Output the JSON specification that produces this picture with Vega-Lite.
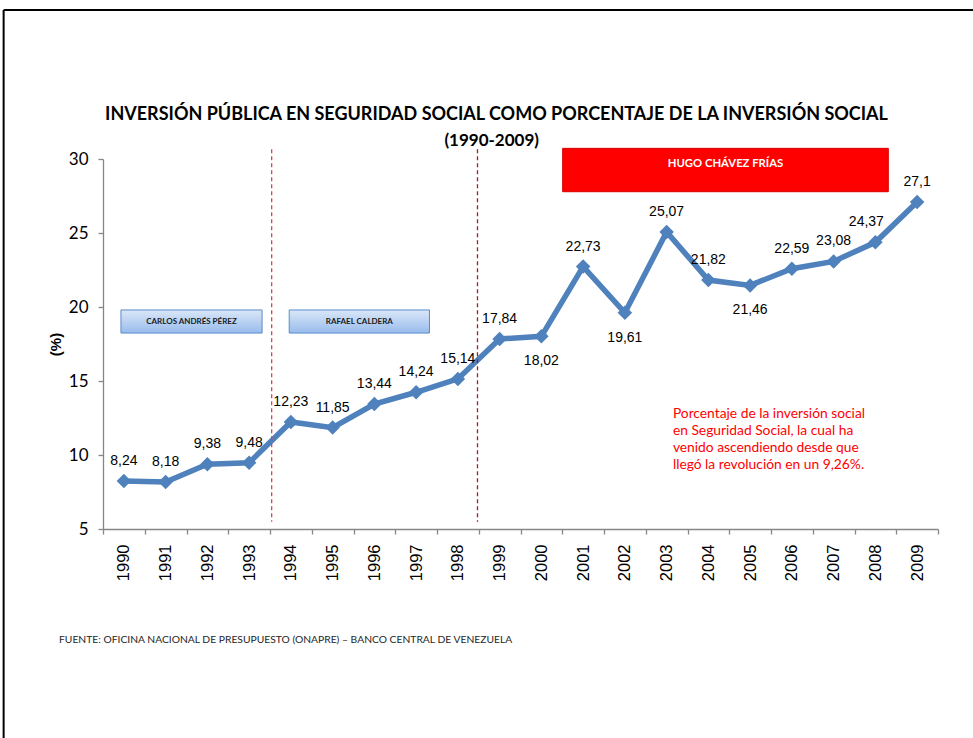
{
  "$schema": "https://vega.github.io/schema/vega-lite/v6.json",
  "autosize": {"type": "none"},
  "width": 835,
  "height": 370,
  "padding": {"left": 103, "top": 159, "right": 35, "bottom": 209},
  "background": "white",
  "config": {"view": {"stroke": null}, "font": "Liberation Sans"},
  "layer": [
    {
      "data": {"values": [
        {"year": "1990", "value": 8.24, "label": "8,24", "pos": "above"},
        {"year": "1991", "value": 8.18, "label": "8,18", "pos": "above"},
        {"year": "1992", "value": 9.38, "label": "9,38", "pos": "above"},
        {"year": "1993", "value": 9.48, "label": "9,48", "pos": "above"},
        {"year": "1994", "value": 12.23, "label": "12,23", "pos": "above"},
        {"year": "1995", "value": 11.85, "label": "11,85", "pos": "above"},
        {"year": "1996", "value": 13.44, "label": "13,44", "pos": "above"},
        {"year": "1997", "value": 14.24, "label": "14,24", "pos": "above"},
        {"year": "1998", "value": 15.14, "label": "15,14", "pos": "above"},
        {"year": "1999", "value": 17.84, "label": "17,84", "pos": "above"},
        {"year": "2000", "value": 18.02, "label": "18,02", "pos": "below"},
        {"year": "2001", "value": 22.73, "label": "22,73", "pos": "above"},
        {"year": "2002", "value": 19.61, "label": "19,61", "pos": "below"},
        {"year": "2003", "value": 25.07, "label": "25,07", "pos": "above"},
        {"year": "2004", "value": 21.82, "label": "21,82", "pos": "above"},
        {"year": "2005", "value": 21.46, "label": "21,46", "pos": "below"},
        {"year": "2006", "value": 22.59, "label": "22,59", "pos": "above"},
        {"year": "2007", "value": 23.08, "label": "23,08", "pos": "above"},
        {"year": "2008", "value": 24.37, "label": "24,37", "pos": "aboveleft"},
        {"year": "2009", "value": 27.1, "label": "27,1", "pos": "above"}
      ]},
      "encoding": {
        "x": {
          "field": "year", "type": "ordinal",
          "scale": {"type": "band", "paddingInner": 0, "paddingOuter": 0},
          "axis": {
            "title": null, "labelAngle": -90, "labelFontSize": 16.5, "labelColor": "#000000",
            "labelFont": "Liberation Sans", "tickBand": "extent", "tickSize": 5,
            "domainColor": "#868686", "tickColor": "#868686", "domainWidth": 1.3, "tickWidth": 1.3,
            "labelPadding": 10, "grid": false
          }
        },
        "y": {
          "field": "value", "type": "quantitative",
          "scale": {"domain": [5, 30], "nice": false, "zero": false},
          "axis": {
            "title": "(%)", "titleFont": "Liberation Sans", "titleFontSize": 15, "titleFontWeight": "bold",
            "titleColor": "#000000", "titlePadding": 5,
            "values": [5, 10, 15, 20, 25, 30], "labelFont": "Lato", "labelFontSize": 17,
            "labelColor": "#000000", "labelPadding": 10, "tickSize": 5,
            "domainColor": "#868686", "tickColor": "#868686", "domainWidth": 1.3, "tickWidth": 1.3,
            "grid": false
          }
        }
      },
      "layer": [
        {"mark": {"type": "line", "color": "#4f81bd", "strokeWidth": 5.5}},
        {"mark": {"type": "point", "shape": "diamond", "filled": true, "size": 210, "color": "#4f81bd", "opacity": 1}},
        {
          "transform": [{"filter": "datum.pos == 'above'"}],
          "mark": {"type": "text", "dy": -20, "fontSize": 14, "font": "Liberation Sans", "color": "#000000"},
          "encoding": {"text": {"field": "label"}}
        },
        {
          "transform": [{"filter": "datum.pos == 'aboveleft'"}],
          "mark": {"type": "text", "dy": -20, "dx": -9, "fontSize": 14, "font": "Liberation Sans", "color": "#000000"},
          "encoding": {"text": {"field": "label"}}
        },
        {
          "transform": [{"filter": "datum.pos == 'below'"}],
          "mark": {"type": "text", "dy": 25, "fontSize": 14, "font": "Liberation Sans", "color": "#000000"},
          "encoding": {"text": {"field": "label"}}
        }
      ]
    },
    {
      "encoding": {},
      "layer": [
        {
          "data": {"values": [
            {"x": 1993.54, "y1": 30.66, "y2": 5.49, "c": "a"},
            {"x": 1998.47, "y1": 30.66, "y2": 5.49, "c": "b"}
          ]},
          "mark": {"type": "rule", "strokeDash": [4, 3], "strokeWidth": 1.3},
          "encoding": {
            "x": {"field": "x", "type": "quantitative", "scale": {"domain": [1989.5, 2009.5], "nice": false, "zero": false}, "axis": null},
            "y": {"field": "y1", "type": "quantitative", "scale": {"domain": [5, 30], "nice": false, "zero": false}},
            "y2": {"field": "y2"},
            "color": {"field": "c", "type": "nominal", "scale": {"domain": ["a", "b"], "range": ["#e0404a", "#a01c28"]}, "legend": null}
          }
        },
        {
          "data": {"values": [
            {"name": "CARLOS ANDRÉS PÉREZ", "x1": 1989.93, "x2": 1993.31, "y1": 19.8, "y2": 18.24},
            {"name": "RAFAEL CALDERA", "x1": 1993.96, "x2": 1997.32, "y1": 19.8, "y2": 18.24}
          ]},
          "mark": {
            "type": "rect", "stroke": "#5b8bd0", "strokeWidth": 1,
            "fill": {"gradient": "linear", "x1": 0, "y1": 0, "x2": 0, "y2": 1,
              "stops": [{"offset": 0, "color": "#dae7f8"}, {"offset": 1, "color": "#98bcec"}]}
          },
          "encoding": {
            "x": {"field": "x1", "type": "quantitative", "scale": {"domain": [1989.5, 2009.5], "nice": false, "zero": false}, "axis": null},
            "x2": {"field": "x2"},
            "y": {"field": "y1", "type": "quantitative", "scale": {"domain": [5, 30], "nice": false, "zero": false}},
            "y2": {"field": "y2"}
          }
        },
        {
          "data": {"values": [
            {"name": "HUGO CHÁVEZ FRÍAS", "x1": 2000.51, "x2": 2008.31, "y1": 30.72, "y2": 27.79}
          ]},
          "mark": {"type": "rect", "fill": "#ff0000", "stroke": "#d80000", "strokeWidth": 1},
          "encoding": {
            "x": {"field": "x1", "type": "quantitative", "scale": {"domain": [1989.5, 2009.5], "nice": false, "zero": false}, "axis": null},
            "x2": {"field": "x2"},
            "y": {"field": "y1", "type": "quantitative", "scale": {"domain": [5, 30], "nice": false, "zero": false}},
            "y2": {"field": "y2"}
          }
        },
        {
          "data": {"values": [
            {"name": "CARLOS ANDRÉS PÉREZ", "x": 1991.62, "y": 18.99},
            {"name": "RAFAEL CALDERA", "x": 1995.64, "y": 18.99}
          ]},
          "mark": {"type": "text", "font": "Lato", "fontSize": 8, "fontWeight": "bold", "color": "#1a1a1a", "baseline": "middle", "align": "center"},
          "encoding": {
            "x": {"field": "x", "type": "quantitative", "scale": {"domain": [1989.5, 2009.5], "nice": false, "zero": false}, "axis": null},
            "y": {"field": "y", "type": "quantitative", "scale": {"domain": [5, 30], "nice": false, "zero": false}},
            "text": {"field": "name"}
          }
        },
        {
          "data": {"values": [
            {"name": "HUGO CHÁVEZ FRÍAS", "x": 2004.41, "y": 29.64}
          ]},
          "mark": {"type": "text", "font": "Lato", "fontSize": 11.3, "fontWeight": "bold", "color": "#ffffff", "baseline": "middle", "align": "center"},
          "encoding": {
            "x": {"field": "x", "type": "quantitative", "scale": {"domain": [1989.5, 2009.5], "nice": false, "zero": false}, "axis": null},
            "y": {"field": "y", "type": "quantitative", "scale": {"domain": [5, 30], "nice": false, "zero": false}},
            "text": {"field": "name"}
          }
        },
        {
          "data": {"values": [
            {"t": "INVERSIÓN PÚBLICA EN SEGURIDAD SOCIAL COMO PORCENTAJE DE LA INVERSIÓN SOCIAL", "x": 1998.925, "y": 32.97}
          ]},
          "mark": {"type": "text", "font": "Lato", "fontSize": 18, "fontWeight": "bold", "color": "#000000", "baseline": "middle", "align": "center"},
          "encoding": {
            "x": {"field": "x", "type": "quantitative", "scale": {"domain": [1989.5, 2009.5], "nice": false, "zero": false}, "axis": null},
            "y": {"field": "y", "type": "quantitative", "scale": {"domain": [5, 30], "nice": false, "zero": false}},
            "text": {"field": "t"}
          }
        },
        {
          "data": {"values": [
            {"t": "(1990-2009)", "x": 1998.81, "y": 31.22}
          ]},
          "mark": {"type": "text", "font": "Lato", "fontSize": 17, "fontWeight": "bold", "color": "#000000", "baseline": "middle", "align": "center"},
          "encoding": {
            "x": {"field": "x", "type": "quantitative", "scale": {"domain": [1989.5, 2009.5], "nice": false, "zero": false}, "axis": null},
            "y": {"field": "y", "type": "quantitative", "scale": {"domain": [5, 30], "nice": false, "zero": false}},
            "text": {"field": "t"}
          }
        },
        {
          "data": {"values": [
            {"lines": ["Porcentaje de la inversión social", "en Seguridad Social, la cual ha", "venido ascendiendo desde que", "llegó la revolución en un 9,26%."], "x": 2003.15, "y": 13.24}
          ]},
          "mark": {"type": "text", "font": "Lato", "fontSize": 13.8, "color": "#ff0000", "baseline": "top", "align": "left", "lineHeight": 17},
          "encoding": {
            "x": {"field": "x", "type": "quantitative", "scale": {"domain": [1989.5, 2009.5], "nice": false, "zero": false}, "axis": null},
            "y": {"field": "y", "type": "quantitative", "scale": {"domain": [5, 30], "nice": false, "zero": false}},
            "text": {"field": "lines"}
          }
        },
        {
          "data": {"values": [
            {"t": "FUENTE: OFICINA NACIONAL DE PRESUPUESTO (ONAPRE) – BANCO CENTRAL DE VENEZUELA", "x": 1988.446, "y": -2.5}
          ]},
          "mark": {"type": "text", "font": "Lato", "fontSize": 10.3, "color": "#262626", "baseline": "middle", "align": "left"},
          "encoding": {
            "x": {"field": "x", "type": "quantitative", "scale": {"domain": [1989.5, 2009.5], "nice": false, "zero": false}, "axis": null},
            "y": {"field": "y", "type": "quantitative", "scale": {"domain": [5, 30], "nice": false, "zero": false}},
            "text": {"field": "t"}
          }
        },
        {
          "data": {"values": [
            {"x1": 1987.12, "x2": 2015, "y1": 40.07, "y2": 40.07},
            {"x1": 1987.12, "x2": 1987.12, "y1": 40.07, "y2": -20}
          ]},
          "mark": {"type": "rule", "color": "#000000", "strokeWidth": 2},
          "encoding": {
            "x": {"field": "x1", "type": "quantitative", "scale": {"domain": [1989.5, 2009.5], "nice": false, "zero": false}, "axis": null},
            "x2": {"field": "x2"},
            "y": {"field": "y1", "type": "quantitative", "scale": {"domain": [5, 30], "nice": false, "zero": false}},
            "y2": {"field": "y2"}
          }
        }
      ]
    }
  ],
  "resolve": {"scale": {"x": "independent"}, "axis": {"x": "independent"}}
}
